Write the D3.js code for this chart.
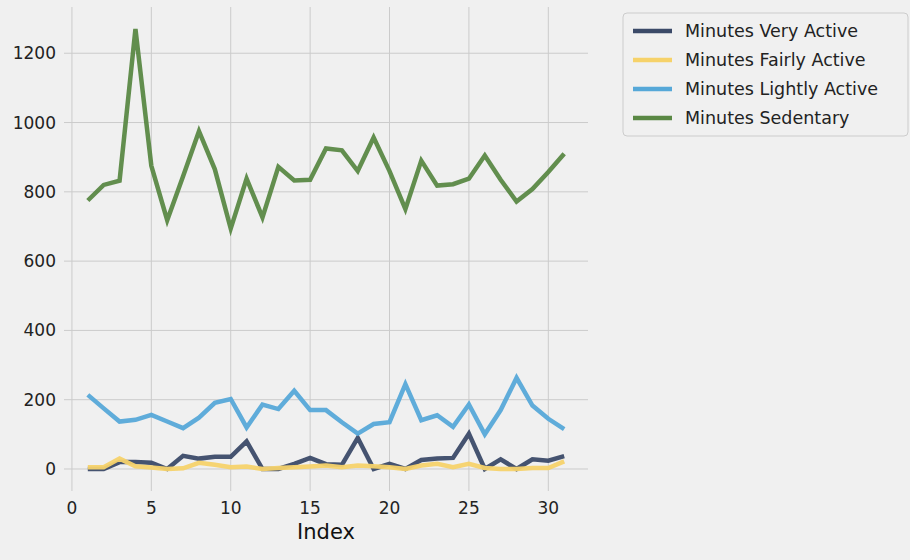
<!DOCTYPE html><html><head><script src="https://d3js.org/d3.v7.min.js"></script>
<style>body{margin:0;background:#f0f0f0}text{font-family:"DejaVu Sans",sans-serif}</style></head><body>
<svg id="c" width="910" height="560"></svg>
<script>
const index=d3.range(1,32);
const veryActive=[0,0,20,20,18,0,38,30,35,35,80,0,0,15,32,14,12,90,0,15,0,26,30,32,102,0,28,0,28,24,37];
const fairlyActive=[5,5,30,8,4,0,2,18,12,5,7,0,3,5,7,10,5,10,8,5,0,10,15,5,15,3,0,0,3,3,22];
const lightlyActive=[214,175,137,142,156,137,118,148,191,202,120,186,173,226,170,170,135,102,130,135,245,141,155,122,186,100,170,263,183,145,115];
const sedentary=[775,820,832,1270,875,718,845,975,865,694,838,726,872,833,835,925,920,860,957,860,750,890,818,822,838,905,835,772,808,857,910];
const seriesNames=["Minutes Very Active","Minutes Fairly Active","Minutes Lightly Active","Minutes Sedentary"];
const xTicks=[0,5,10,15,20,25,30], yTicks=[0,200,400,600,800,1000,1200];
const series=[veryActive,fairlyActive,lightlyActive,sedentary];
const colors=["#3b4a68","#f6d26a","#56a8d8","#5a8844"];
const svg=d3.select("#c");
svg.append("rect").attr("width",910).attr("height",560).attr("fill","#f0f0f0");
const x=d3.scaleLinear().domain([-0.5,32.5]).range([64,588]);
const y=d3.scaleLinear().domain([-63.5,1333.5]).range([491,7]);
const g=svg.append("g");
g.selectAll(".vx").data(xTicks).join("line").attr("x1",d=>x(d)).attr("x2",d=>x(d)).attr("y1",7).attr("y2",491).attr("stroke","#cbcbcb").attr("stroke-width",1);
g.selectAll(".hy").data(yTicks).join("line").attr("y1",d=>y(d)).attr("y2",d=>y(d)).attr("x1",64).attr("x2",588).attr("stroke","#cbcbcb").attr("stroke-width",1);
g.selectAll(".tx").data(xTicks).join("text").attr("x",d=>x(d)).attr("y",514).attr("text-anchor","middle").attr("font-size",17).attr("fill","#222").text(d=>d);
g.selectAll(".ty").data(yTicks).join("text").attr("x",56).attr("y",d=>y(d)+6).attr("text-anchor","end").attr("font-size",17).attr("fill","#222").text(d=>d);
svg.append("text").attr("x",326).attr("y",539).attr("text-anchor","middle").attr("font-size",21).attr("fill","#111").text("Index");
const line=d3.line().x((d,i)=>x(index[i])).y(d=>y(d));
series.forEach((s,k)=>svg.append("path").attr("d",line(s)).attr("fill","none").attr("stroke",colors[k]).attr("stroke-width",4.5).attr("opacity",0.95));
const lg=svg.append("g");
lg.append("rect").attr("x",623).attr("y",13).attr("width",285).attr("height",123).attr("rx",4).attr("fill","#f0f0f0").attr("stroke","#ccc");
seriesNames.forEach((n,k)=>{const yy=31+k*29;
lg.append("line").attr("x1",633).attr("x2",672).attr("y1",yy).attr("y2",yy).attr("stroke",colors[k]).attr("stroke-width",4.5);
lg.append("text").attr("x",685).attr("y",yy+6).attr("font-size",17.5).attr("fill","#222").text(n);});
</script></body></html>
